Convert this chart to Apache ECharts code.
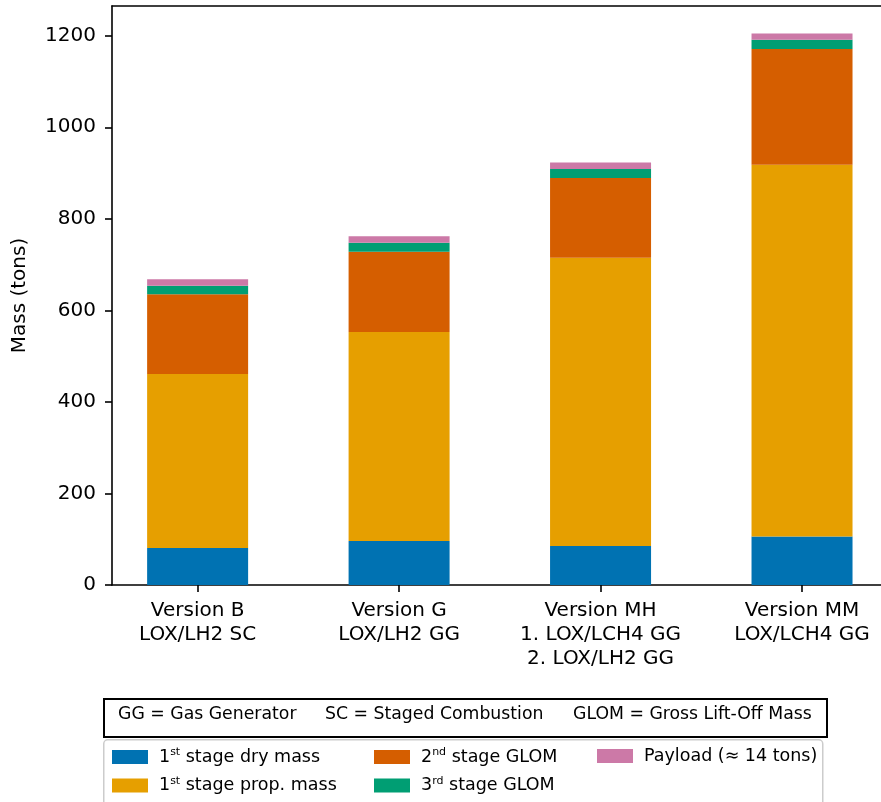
<!DOCTYPE html>
<html>
<head>
<meta charset="utf-8">
<script src="https://cdn.jsdelivr.net/npm/echarts@6/dist/echarts.min.js"></script>
<style>
  html, body { margin: 0; padding: 0; background: #fff; }
  #chart { width: 881px; height: 802px; }
</style>
</head>
<body>
<div id="chart"></div>
<script>
// Launcher versions (x categories)
const categories = [
  'Version B\nLOX/LH2 SC',
  'Version G\nLOX/LH2 GG',
  'Version MH\n1. LOX/LCH4 GG\n2. LOX/LH2 GG',
  'Version MM\nLOX/LCH4 GG'
];

// Mass contributions in tons, stacked bottom to top
const stage1Dry   = [81, 96, 85, 106];
const stage1Prop  = [380, 457, 630, 812];
const stage2Glom  = [174, 175, 174, 253];
const stage3Glom  = [19, 20, 20, 20];
const payload     = [14, 14, 14, 14];

const yTicks = [0, 200, 400, 600, 800, 1000, 1200];

const seriesNames = [
  '1st stage dry mass',
  '1st stage prop. mass',
  '2nd stage GLOM',
  '3rd stage GLOM',
  'Payload (≈ 14 tons)'
];
// Legend labels with superscript ordinals
const legendLabels = {
  '1st stage dry mass': '{n|1}{sup|st}{n| stage dry mass}',
  '1st stage prop. mass': '{n|1}{sup|st}{n| stage prop. mass}',
  '2nd stage GLOM': '{n|2}{sup|nd}{n| stage GLOM}',
  '3rd stage GLOM': '{n|3}{sup|rd}{n| stage GLOM}',
  'Payload (≈ 14 tons)': '{n|Payload (≈ 14 tons)}'
};
const colors = ['#0072B2', '#E69F00', '#D55E00', '#009E73', '#CC79A7'];
const stacks = [stage1Dry, stage1Prop, stage2Glom, stage3Glom, payload];

const FONT = 'DejaVu Sans';
const chart = echarts.init(document.getElementById('chart'), null, { renderer: 'canvas' });

const legendText = {
  fontFamily: FONT,
  color: '#000',
  padding: [0, 0, 0, 6],
  rich: {
    n: { fontFamily: FONT, fontSize: 17.5, lineHeight: 20, color: '#000' },
    sup: { fontFamily: FONT, fontSize: 11, lineHeight: 11, color: '#000', verticalAlign: 'top' }
  }
};
function legendAt(left, names) {
  return {
    left: left, top: 747, orient: 'vertical',
    padding: 0, height: 80,
    itemWidth: 36, itemHeight: 14, itemGap: 9.5,
    icon: 'rect',
    data: names,
    formatter: name => legendLabels[name],
    textStyle: legendText,
    selectedMode: false
  };
}

// Visible x range: the plot frame runs past the right edge of the canvas
const X_MIN = -0.425, X_MAX = 3.392;

const option = {
  animation: false,
  backgroundColor: '#fff',
  grid: { left: 112, top: 6, right: 0, height: 579, containLabel: false },
  xAxis: [{
    type: 'value',
    min: X_MIN, max: X_MAX,
    axisLine: { show: true, onZero: false, lineStyle: { color: '#000', width: 1.6 } },
    axisTick: { show: true, customValues: [0, 1, 2, 3], length: 7, lineStyle: { color: '#000', width: 1.6 } },
    axisLabel: {
      customValues: [0, 1, 2, 3],
      formatter: v => categories[Math.round(v)],
      fontFamily: FONT, fontSize: 20, lineHeight: 24, color: '#000', margin: 14,
      align: 'center', verticalAlign: 'top'
    },
    splitLine: { show: false }
  }, {
    type: 'value', position: 'top',
    min: X_MIN, max: X_MAX,
    axisLine: { show: true, onZero: false, lineStyle: { color: '#000', width: 1.6 } },
    axisTick: { show: false }, axisLabel: { show: false }, splitLine: { show: false }
  }],
  yAxis: {
    type: 'value',
    min: 0, max: 1265,
    name: 'Mass (tons)',
    nameLocation: 'middle',
    nameGap: 82,
    nameTextStyle: { fontFamily: FONT, fontSize: 20, color: '#000' },
    axisLine: { show: true, onZero: false, lineStyle: { color: '#000', width: 1.6 } },
    axisTick: { show: true, customValues: yTicks, length: 7, lineStyle: { color: '#000', width: 1.6 } },
    axisLabel: {
      customValues: yTicks, formatter: v => String(v),
      fontFamily: FONT, fontSize: 20, color: '#000', margin: 16
    },
    splitLine: { show: false }
  },
  legend: [
    legendAt(112, [seriesNames[0], seriesNames[1]]),
    legendAt(374, [seriesNames[2], seriesNames[3]]),
    legendAt(597, [seriesNames[4]])
  ],
  graphic: [
    {
      type: 'rect', left: 103, top: 698, z: 10,
      shape: { width: 723, height: 38 },
      style: { fill: '#fff', stroke: '#000', lineWidth: 2 }
    },
    { type: 'text', left: 118, top: 706, z: 11,
      style: { text: 'GG = Gas Generator', font: '17.3px "DejaVu Sans"', fill: '#000' } },
    { type: 'text', left: 325, top: 706, z: 11,
      style: { text: 'SC = Staged Combustion', font: '17.3px "DejaVu Sans"', fill: '#000' } },
    { type: 'text', left: 573, top: 706, z: 11,
      style: { text: 'GLOM = Gross Lift-Off Mass', font: '17.3px "DejaVu Sans"', fill: '#000' } },
    {
      type: 'rect', left: 103, top: 739, z: -1,
      shape: { width: 719, height: 80, r: 4 },
      style: { fill: '#fff', stroke: '#cccccc', lineWidth: 1.5 }
    }
  ],
  // Mass is stored first so the stack accumulates along the y dimension
  series: stacks.map((vals, i) => ({
    name: seriesNames[i],
    type: 'bar',
    stack: 'mass',
    barWidth: 101,
    itemStyle: { color: colors[i] },
    dimensions: ['mass', 'version'],
    encode: { x: 'version', y: 'mass' },
    data: vals.map((v, j) => [v, j])
  }))
};

chart.setOption(option);
</script>
</body>
</html>
